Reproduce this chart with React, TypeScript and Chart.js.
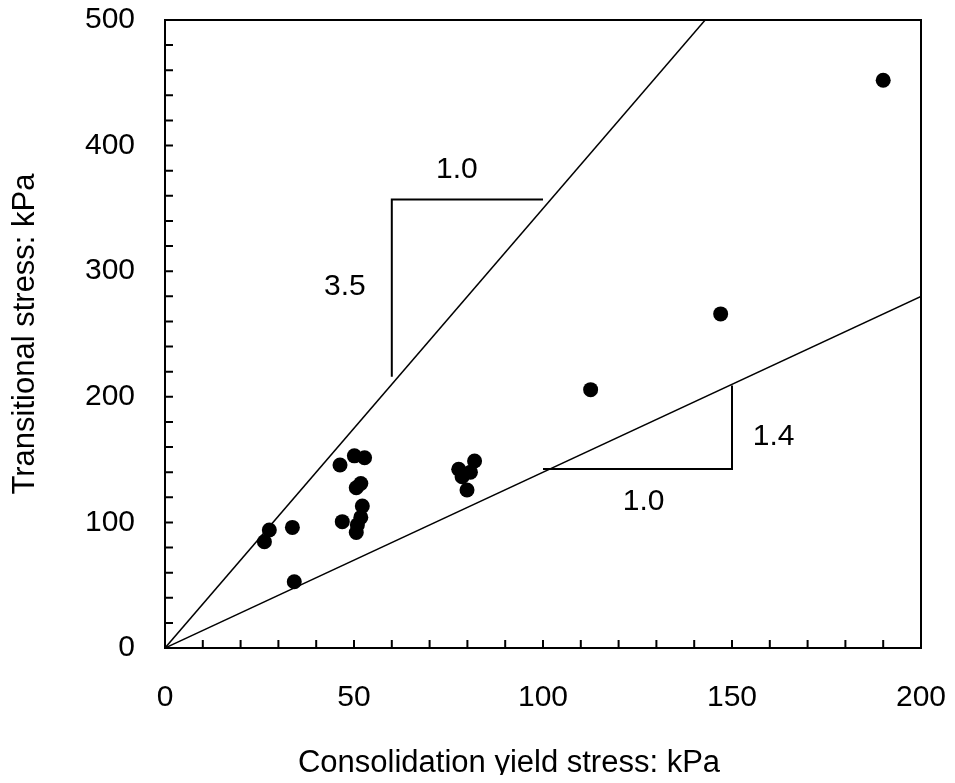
import { useEffect, useRef } from "react";
import { Chart, registerables } from "chart.js";

Chart.register(...registerables);

// Measured points: consolidation yield stress (kPa) vs transitional stress (kPa)
const yieldStress = [190, 147, 112.6, 27.6, 26.3, 33.7, 34.2, 46.3, 50.1, 52.8, 51.8, 50.6, 46.9, 52.2, 51.8, 50.9, 50.6, 77.7, 81.9, 79.9, 78.6, 80.8];
const transitionalStress = [452, 266, 205.7, 94, 84.6, 96, 52.8, 145.7, 153, 151.5, 131, 127.6, 100.6, 113, 104, 98, 92, 142.3, 148.9, 125.8, 136.4, 140];

// Reference lines through the origin
const steepLineX = [0, 142.9];
const steepLineY = [0, 500];
const shallowLineX = [0, 200];
const shallowLineY = [0, 280];

// Slope triangles
const steepTriX = [100, 60, 60];
const steepTriY = [357, 357, 216];
const shallowTriX = [100, 150, 150];
const shallowTriY = [142.5, 142.5, 209];

// Slope annotations
const slopeLabels = ["1.0", "3.5", "1.4", "1.0"];
const slopeLabelX = [77.2, 47.6, 161, 126.6];
const slopeLabelY = [380.6, 287.7, 168, 116.5];

// Axes
const xMin = 0, xMax = 200, xMinorStep = 10, xLabelStep = 50;
const yMin = 0, yMax = 500, yMinorStep = 20, yLabelStep = 100;
const xTitle = "Consolidation yield stress: kPa";
const yTitle = "Transitional stress: kPa";

const FONT = '"Liberation Sans", Arial, sans-serif';

const zip = (xs: number[], ys: number[]) => xs.map((x, i) => ({ x, y: ys[i] }));

const framePlugin = {
  id: "frameTicks",
  afterDraw(chart: any) {
    const { ctx, chartArea: a, scales } = chart;
    const x = scales.x;
    const y = scales.y;
    ctx.save();
    ctx.strokeStyle = "#000";
    ctx.lineWidth = 2;
    ctx.strokeRect(a.left, a.top, a.right - a.left, a.bottom - a.top);
    ctx.beginPath();
    x.ticks.forEach((t: any) => {
      const px = x.getPixelForValue(t.value);
      ctx.moveTo(px, a.bottom);
      ctx.lineTo(px, a.bottom - 8);
    });
    y.ticks.forEach((t: any) => {
      const py = y.getPixelForValue(t.value);
      ctx.moveTo(a.left, py);
      ctx.lineTo(a.left + 8, py);
    });
    ctx.stroke();
    ctx.fillStyle = "#000";
    ctx.font = `30px ${FONT}`;
    ctx.textAlign = "center";
    ctx.textBaseline = "middle";
    slopeLabels.forEach((s, i) => {
      ctx.fillText(s, x.getPixelForValue(slopeLabelX[i]), y.getPixelForValue(slopeLabelY[i]));
    });
    // x-axis title (offset left of the plot centre, as in the original)
    ctx.font = `31px ${FONT}`;
    ctx.fillText(xTitle, (a.left + a.right) / 2 - 34, x.bottom - 20);
    ctx.restore();
  },
};

const noPad = (s: any) => {
  s.paddingTop = 0;
  s.paddingBottom = 0;
  s.paddingLeft = 0;
  s.paddingRight = 0;
};

export default function App() {
  const ref = useRef<HTMLCanvasElement | null>(null);
  useEffect(() => {
    if (!ref.current) return;
    const lineStyle = {
      type: "line" as const,
      borderColor: "#000",
      borderWidth: 1.5,
      pointRadius: 0,
      fill: false,
      showLine: true,
      tension: 0,
    };
    const chart = new Chart(ref.current, {
      type: "scatter",
      data: {
        datasets: [
          {
            label: "data",
            data: zip(yieldStress, transitionalStress),
            backgroundColor: "#000",
            borderColor: "#000",
            borderWidth: 0,
            pointRadius: 7.5,
            pointHoverRadius: 7.5,
          },
          { ...lineStyle, label: "3.5", data: zip(steepLineX, steepLineY) },
          { ...lineStyle, label: "1.4", data: zip(shallowLineX, shallowLineY) },
          { ...lineStyle, label: "tri1", data: zip(steepTriX, steepTriY), borderWidth: 2 },
          { ...lineStyle, label: "tri2", data: zip(shallowTriX, shallowTriY), borderWidth: 2 },
        ] as any,
      },
      options: {
        animation: false,
        responsive: false,
        devicePixelRatio: 1,
        layout: { padding: { left: 0, right: 26, top: 12, bottom: 0 } },
        plugins: { legend: { display: false }, tooltip: { enabled: false } },
        scales: {
          x: {
            type: "linear",
            min: xMin,
            max: xMax,
            grid: { display: false, drawTicks: false },
            border: { display: false },
            afterFit: (s: any) => { s.height = 135; noPad(s); },
            ticks: {
              stepSize: xMinorStep,
              autoSkip: false,
              maxRotation: 0,
              padding: 32,
              color: "#000",
              font: { family: FONT, size: 30 },
              callback: (v: any) => (Number(v) % xLabelStep === 0 ? String(v) : ""),
            },
            title: { display: false, text: xTitle },
          },
          y: {
            type: "linear",
            min: yMin,
            max: yMax,
            grid: { display: false, drawTicks: false },
            border: { display: false },
            afterFit: (s: any) => { s.width = 157; noPad(s); },
            ticks: {
              stepSize: yMinorStep,
              autoSkip: false,
              padding: 30,
              color: "#000",
              font: { family: FONT, size: 30 },
              callback: (v: any) => (Number(v) % yLabelStep === 0 ? String(v) : ""),
            },
            title: {
              display: true,
              text: yTitle,
              color: "#000",
              font: { family: FONT, size: 31, lineHeight: 1 },
              padding: { top: 1.5, bottom: 0 },
            },
          },
        },
      } as any,
      plugins: [framePlugin],
    });
    return () => chart.destroy();
  }, []);
  return (
    <div style={{ width: 939, height: 767 }}>
      <canvas ref={ref} width={939} height={775} style={{ display: "block" }} />
    </div>
  );
}
